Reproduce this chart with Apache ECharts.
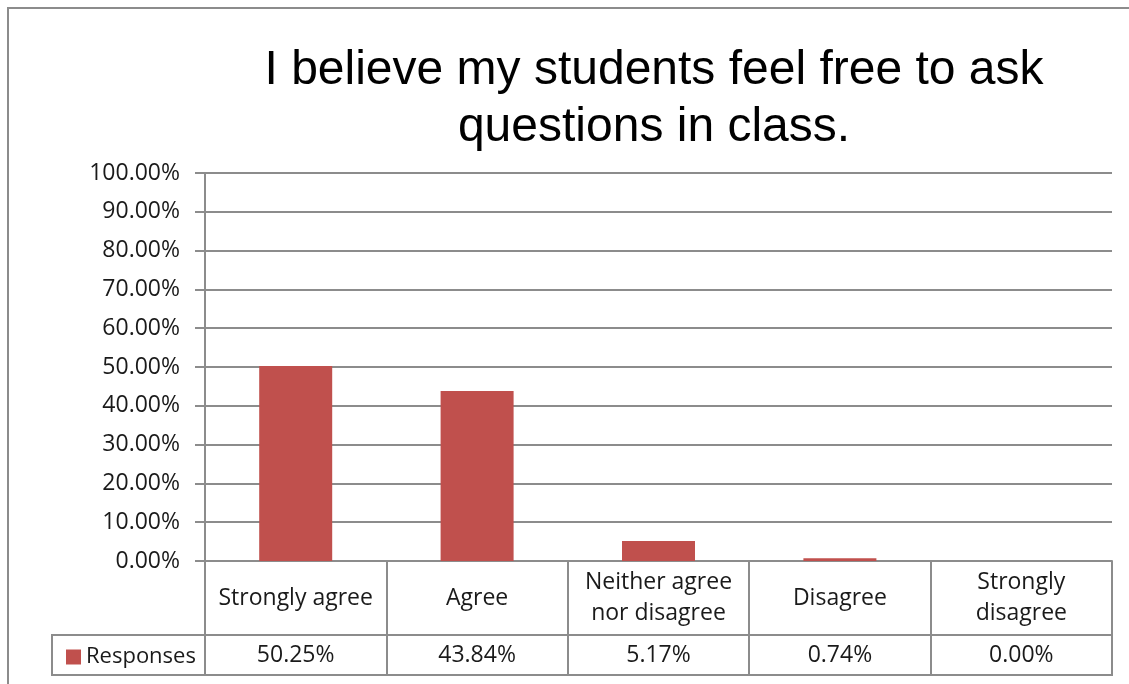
<!DOCTYPE html>
<html>
<head>
<meta charset="utf-8">
<script src="https://cdn.jsdelivr.net/npm/echarts@6/dist/echarts.min.js"></script>
<style>
  html, body { margin: 0; padding: 0; background: #fff; }
  #chart { width: 1129px; height: 684px; }
</style>
</head>
<body>
<div id="chart"></div>
<script>
// 数据
var categories = ['Strongly agree', 'Agree', 'Neither agree\nnor disagree', 'Disagree', 'Strongly\ndisagree'];
var responses = [50.25, 43.84, 5.17, 0.74, 0.00];
var yTicks = [0, 10, 20, 30, 40, 50, 60, 70, 80, 90, 100];
var seriesName = 'Responses';
var titleText = 'I believe my students feel free to ask\nquestions in class.';

var gray = '#8c8c8c';
var labelFont = '"Open Sans", sans-serif';
var labelSize = 23;

// 表格第二行: 数值
var valueLabels = responses.map(function (v) { return v.toFixed(2) + '%'; });

var chart = echarts.init(document.getElementById('chart'));
var option = {
    animation: false,
    backgroundColor: '#fff',
    grid: {
        left: 205,
        right: 17,
        top: 173,
        bottom: 123
    },
    legend: {
        data: [seriesName],
        left: 61,
        top: 641,
        icon: 'rect',
        itemWidth: 15,
        itemHeight: 15,
        itemGap: 5,
        textStyle: { fontFamily: labelFont, fontSize: 22, color: '#1a1a1a' }
    },
    xAxis: [
        {
            type: 'category',
            data: categories,
            position: 'bottom',
            axisLine: { show: true, lineStyle: { color: gray, width: 2 } },
            axisTick: { show: true, length: 74, interval: 0, lineStyle: { color: gray, width: 2 } },
            axisLabel: {
                interval: 0,
                margin: 37,
                verticalAlign: 'middle',
                lineHeight: 31,
                fontFamily: labelFont,
                fontSize: labelSize,
                color: '#1a1a1a'
            },
            splitLine: { show: false }
        },
        {
            type: 'category',
            data: valueLabels,
            position: 'bottom',
            offset: 74,
            axisLine: { show: true, lineStyle: { color: gray, width: 2 } },
            axisTick: { show: true, length: 40, interval: 0, lineStyle: { color: gray, width: 2 } },
            axisLabel: {
                interval: 0,
                margin: 20,
                verticalAlign: 'middle',
                fontFamily: labelFont,
                fontSize: labelSize,
                color: '#1a1a1a'
            },
            splitLine: { show: false }
        }
    ],
    yAxis: {
        type: 'value',
        min: yTicks[0],
        max: yTicks[yTicks.length - 1],
        interval: yTicks[1] - yTicks[0],
        axisLine: { show: true, lineStyle: { color: gray, width: 2 } },
        axisTick: { show: true, length: 10, lineStyle: { color: gray, width: 2 } },
        axisLabel: {
            margin: 25,
            fontFamily: labelFont,
            fontSize: labelSize,
            color: '#1a1a1a',
            formatter: function (v) { return v.toFixed(2) + '%'; }
        },
        splitLine: { show: true, lineStyle: { color: gray, width: 2 } }
    },
    series: [
        {
            name: seriesName,
            type: 'bar',
            xAxisIndex: 0,
            barWidth: 73,
            itemStyle: { color: '#C0504D' },
            data: responses
        }
    ],
    graphic: [
        // 外框
        {
            type: 'rect',
            shape: { x: 8, y: 8, width: 1200, height: 800 },
            style: { fill: 'none', stroke: gray, lineWidth: 2 },
            silent: true
        },
        // 表格第二行外框
        {
            type: 'rect',
            shape: { x: 52, y: 635, width: 1060, height: 40 },
            style: { fill: 'none', stroke: gray, lineWidth: 2 },
            silent: true
        },
        {
            type: 'text',
            x: 654,
            y: 42,
            style: {
                text: titleText,
                align: 'center',
                verticalAlign: 'top',
                fontFamily: '"Liberation Sans", Arial, sans-serif',
                fontSize: 48,
                lineHeight: 57,
                fill: '#000'
            }
        }
    ]
};
chart.setOption(option);
window.onresize = function () {
    chart.resize();
};
</script>
</body>
</html>
